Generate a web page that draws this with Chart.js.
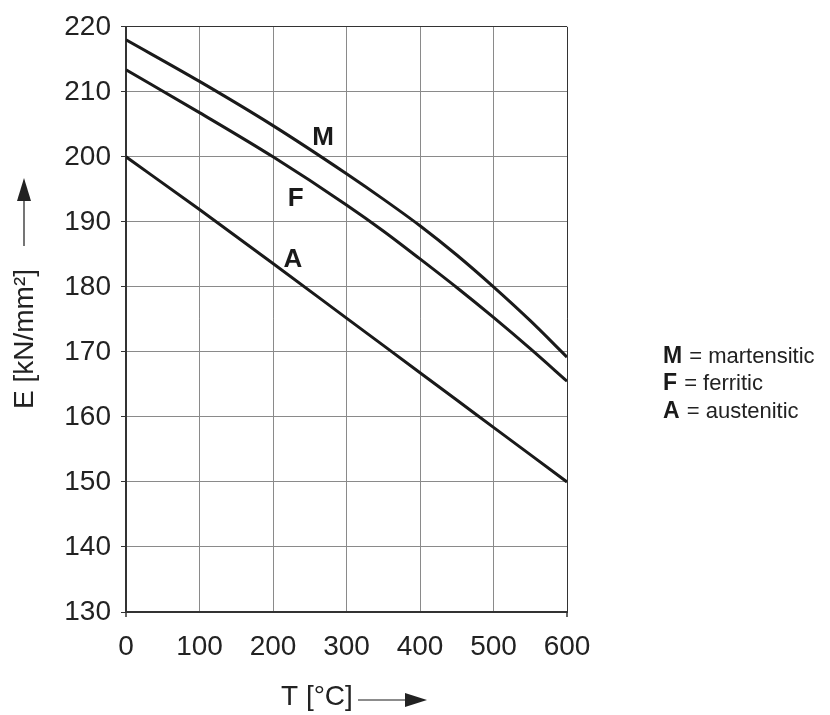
<!DOCTYPE html>
<html>
<head>
<meta charset="utf-8">
<script src="https://cdn.jsdelivr.net/npm/chart.js@4.4.1/dist/chart.umd.min.js"></script>
<style>
  html, body { margin: 0; padding: 0; background: #fff; }
  #wrap { width: 830px; height: 715px; position: relative; }
</style>
</head>
<body>
<div id="wrap"><canvas id="chart"></canvas></div>
<script>
// temperature T [°C] and modulus E [kN/mm²]
const temps = [0, 100, 200, 300, 350, 400, 450, 500, 550, 600];
const martensitic = [218, 211.6, 204.8, 197.4, 193.5, 189.4, 184.9, 180.0, 174.8, 169.2];
const ferritic = [213.4, 206.8, 200, 192.6, 188.6, 184.3, 179.9, 175.3, 170.5, 165.5];
const austenitic = [200, 191.9, 183.6, 175.2, 171.0, 166.8, 162.6, 158.4, 154.2, 150];

const curveLetters = ['M', 'F', 'A'];
const legendNames = ['martensitic', 'ferritic', 'austenitic'];
const xTicks = [0, 100, 200, 300, 400, 500, 600];
const yTicks = [130, 140, 150, 160, 170, 180, 190, 200, 210, 220];

const FONT = '"Liberation Sans", Arial, Helvetica, sans-serif';
const INK = '#1a1a1a';

const toPoints = (vals) => temps.map((t, i) => ({ x: t, y: vals[i] }));

const makeSet = (vals) => ({
  data: toPoints(vals),
  borderColor: INK,
  borderWidth: 3,
  pointRadius: 0,
  fill: false,
  cubicInterpolationMode: 'monotone'
});

// letter placement on the curves (data coords)
const letterSpots = [
  { x: 268, y: 203 },
  { x: 231, y: 193.5 },
  { x: 227, y: 184.2 }
];

const decorations = {
  id: 'decorations',
  afterDraw(chart) {
    const ctx = chart.ctx;
    const area = chart.chartArea;
    const xs = chart.scales.x;
    const ys = chart.scales.y;
    ctx.save();
    ctx.fillStyle = INK;
    ctx.strokeStyle = INK;

    // letters next to curves
    ctx.font = 'bold 26px ' + FONT;
    ctx.textAlign = 'center';
    ctx.textBaseline = 'middle';
    curveLetters.forEach((l, i) => {
      ctx.fillText(l, xs.getPixelForValue(letterSpots[i].x), ys.getPixelForValue(letterSpots[i].y));
    });

    // x axis title with arrow
    ctx.font = '28px ' + FONT;
    ctx.textAlign = 'left';
    ctx.fillStyle = '#222';
    ctx.fillText('T [°C]', 281, 697);
    ctx.lineWidth = 1.2;
    ctx.beginPath();
    ctx.moveTo(358, 700);
    ctx.lineTo(408, 700);
    ctx.stroke();
    ctx.beginPath();
    ctx.moveTo(427, 700);
    ctx.lineTo(405, 693);
    ctx.lineTo(405, 707);
    ctx.closePath();
    ctx.fill();

    // y axis title with arrow
    ctx.save();
    ctx.translate(25, 339);
    ctx.rotate(-Math.PI / 2);
    ctx.textAlign = 'center';
    ctx.fillText('E [kN/mm²]', 0, 0);
    ctx.restore();
    ctx.beginPath();
    ctx.moveTo(24, 246);
    ctx.lineTo(24, 198);
    ctx.stroke();
    ctx.beginPath();
    ctx.moveTo(24, 178);
    ctx.lineTo(17, 201);
    ctx.lineTo(31, 201);
    ctx.closePath();
    ctx.fill();

    // legend on the right
    const lx = area.right + 96;
    [357, 384, 412].forEach((y, i) => {
      ctx.textAlign = 'left';
      ctx.font = 'bold 23px ' + FONT;
      ctx.fillStyle = INK;
      ctx.fillText(curveLetters[i], lx, y);
      const w = ctx.measureText(curveLetters[i]).width;
      ctx.font = '22px ' + FONT;
      ctx.fillStyle = '#222';
      ctx.fillText(' = ' + legendNames[i], lx + w + 1, y);
    });

    // small end ticks under the x axis
    ctx.strokeStyle = '#333';
    ctx.lineWidth = 1.5;
    [area.left, area.right].forEach(px => {
      ctx.beginPath();
      ctx.moveTo(px, area.bottom);
      ctx.lineTo(px, area.bottom + 5);
      ctx.stroke();
    });
    ctx.restore();
  }
};

new Chart(document.getElementById('chart'), {
  type: 'line',
  data: {
    datasets: [makeSet(martensitic), makeSet(ferritic), makeSet(austenitic)]
  },
  options: {
    responsive: true,
    maintainAspectRatio: false,
    animation: false,
    events: [],
    layout: { padding: { left: 0, right: 263, top: 24, bottom: 0 } },
    plugins: {
      legend: { display: false },
      tooltip: { enabled: false }
    },
    scales: {
      x: {
        type: 'linear',
        min: 0,
        max: 600,
        afterBuildTicks: s => { s.ticks = xTicks.map(v => ({ value: v })); },
        ticks: {
          color: '#222',
          padding: 18,
          maxRotation: 0,
          font: { family: FONT, size: 28 }
        },
        grid: {
          drawTicks: false,
          lineWidth: 1,
          color: c => (c.tick && c.tick.value === 600 ? '#333' : '#8a8a8a')
        },
        border: { color: '#333', width: 2 },
        afterFit: s => { s.height = 103; }
      },
      y: {
        min: 130,
        max: 220,
        afterBuildTicks: s => { s.ticks = yTicks.map(v => ({ value: v })); },
        ticks: {
          color: '#222',
          padding: 10,
          font: { family: FONT, size: 28 }
        },
        grid: {
          tickLength: 5,
          lineWidth: 1,
          color: c => (c.tick && c.tick.value === 220 ? '#333' : '#8a8a8a'),
          tickColor: '#333'
        },
        border: { color: '#333', width: 2 },
        afterFit: s => { s.width = 126; }
      }
    }
  },
  plugins: [decorations]
});
</script>
</body>
</html>
